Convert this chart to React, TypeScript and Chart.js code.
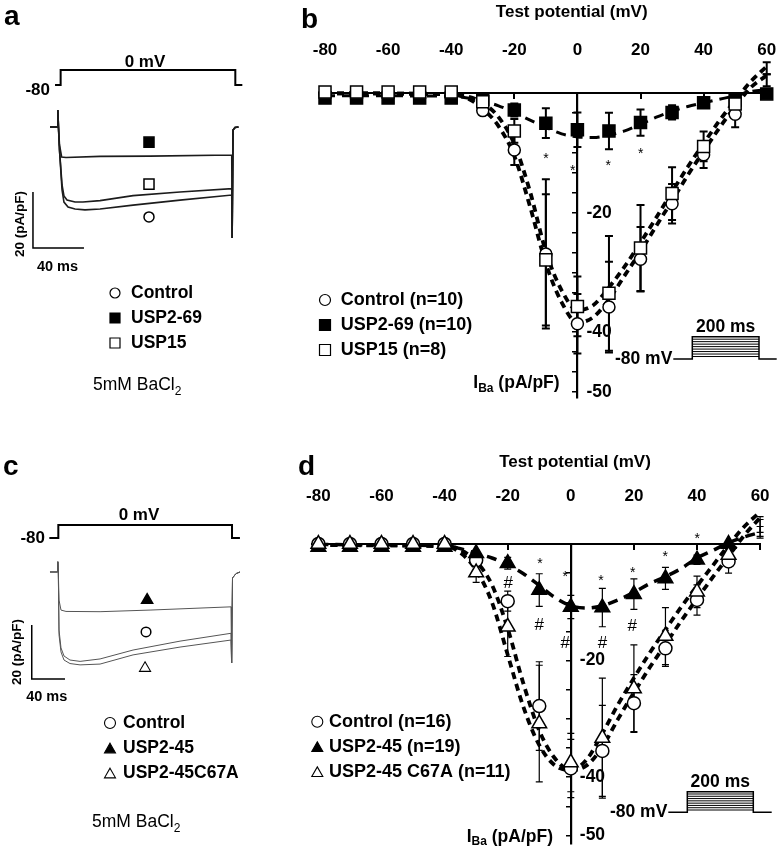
import React, { useEffect, useRef } from "react";
import { Chart, registerables } from "chart.js";

Chart.register(...registerables);

const FF = "'Liberation Sans', Arial, Helvetica, sans-serif";
Chart.defaults.font.family = FF;
Chart.defaults.color = "#000";

/* ================= Panel a : current traces (time ms, current pA/pF) ================= */
const aProtocolT = [-3.9, 0.5, 0.5, 137.5, 137.5, 143];
const aProtocolV = [-80, -80, 0, 0, -80, -80];
const aCtrlT = [-7.8, -2.0, -1.7, -1.2, -0.4, 1.6, 3.1, 6.3, 11.8, 19.6, 31.4, 57.3, 94.1, 134.7, 135.0, 135.7, 137.3, 140.0];
const aCtrlI = [0, 0, 6.1, 0, -8.2, -22.5, -26.8, -28.6, -29.3, -29.6, -29.3, -27.9, -26.1, -24.3, -39.6, -1.1, -0.2, 0];
const aUsp15T = [-7.8, -2.0, -1.7, -1.2, -0.4, 1.6, 3.1, 5.5, 11.8, 18.0, 31.4, 57.3, 94.1, 134.7, 135.0, 135.7, 137.3, 140.0];
const aUsp15I = [0, 0, 6.1, 0, -8.2, -20.7, -24.6, -26.1, -26.8, -26.8, -26.3, -24.5, -23.2, -22.0, -39.6, -1.1, -0.2, 0];
const aUsp269T = [-7.8, -2.0, -1.7, -1.2, -0.4, 1.3, 4.7, 31.4, 70.6, 134.7, 135.0, 135.7, 137.3, 140.0];
const aUsp269I = [0, 0, 6.1, 0, -6.4, -10.7, -10.9, -10.5, -10.4, -10.0, -39.6, -1.1, -0.2, 0];
const aScaleBarT = [-21.2, -21.2, 18.8];
const aScaleBarI = [-23.2, -43.2, -43.2];
const aMarkT = [69.8, 69.8, 69.8];
const aMarkI = [-32.1, -5.4, -20.4]; // Control, USP2-69, USP15

/* ================= Panel c : current traces ================= */
const cProtocolT = [-10.8, 0, 0, 208.5, 208.5, 218];
const cProtocolV = [-80, -80, 0, 0, -80, -80];
const cCtrlT = [-10, -1, -0.6, 0, 0.84, 3.2, 6.8, 14.0, 26.1, 50.1, 89.7, 146.1, 207.3, 208, 209.1, 213.3, 218.1];
const cCtrlI = [0, 0, 3.8, 0, -21.5, -28.1, -31.1, -32.6, -33.1, -32.2, -28.9, -25.6, -22.7, -33.7, -2.2, -0.6, 0];
const cC67AT = [-10, -1, -0.6, 0, 0.84, 3.2, 6.8, 14.0, 26.1, 50.1, 89.7, 146.1, 207.3, 208, 209.1, 213.3, 218.1];
const cC67AI = [0, 0, 3.8, 0, -23.3, -29.6, -32.6, -33.9, -34.4, -34.1, -30.7, -27.8, -25.2, -33.7, -2.2, -0.6, 0];
const cUsp245T = [-10, -1, -0.6, 0, 0.84, 3.2, 9.2, 50.1, 110.1, 207.3, 208, 209.1, 213.3, 218.1];
const cUsp245I = [0, 0, 3.8, 0, -10.4, -14.1, -14.6, -14.7, -14.1, -12.9, -33.7, -2.2, -0.6, 0];
const cScaleBarT = [-31.9, -31.9, 8.0];
const cScaleBarI = [-19.6, -39.6, -39.6];
const cMarkT = [105.3, 106.6, 104.1];
const cMarkI = [-22.2, -10.4, -35.6]; // Control, USP2-45, USP2-45C67A

/* ================= Panel b : I-V ================= */
const ivV = [-80, -70, -60, -50, -40, -30, -20, -10, 0, 10, 20, 30, 40, 50, 60];
const ivTicks = [-80, -60, -40, -20, 0, 20, 40, 60];
const bCtrl = [-0.2, -0.2, -0.2, -0.2, -0.2, -2.9, -9.5, -26.9, -38.6, -35.8, -27.8, -18.5, -10.3, -3.5, 2.2];
const bCtrlSem = [0.3, 0.3, 0.3, 0.3, 0.3, 0.6, 2.5, 12.5, 5, 7.6, 5.4, 3.3, 2.2, 2.2, 1.0];
const bUsp269 = [-0.8, -0.8, -0.8, -0.8, -0.8, -1.0, -2.8, -5.0, -6.1, -6.3, -4.9, -3.2, -1.6, -1.1, -0.1];
const bUsp269Sem = [0.3, 0.3, 0.3, 0.3, 0.3, 0.5, 1.1, 2.5, 2.9, 3.05, 2.2, 1.2, 0.6, 0.5, 0.3];
const bUsp15 = [0.2, 0.2, 0.2, 0.2, 0.2, -1.4, -6.3, -27.9, -35.7, -33.5, -25.9, -16.8, -8.9, -1.8, 4.2];
const bUsp15Sem = [0.3, 0.3, 0.3, 0.3, 0.3, 0.5, 2.0, 11.0, 5, 9.6, 7.2, 4.4, 2.5, 1.0, 1.0];
const bFitV = [-80, -40, -35, -30, -25, -20, -15, -10, -5, 0, 5, 10, 15, 20, 25, 30, 35, 40, 45, 50, 55, 60];
const bFitCtrl = [0, -0.2, -0.8, -2.6, -5.5, -10.5, -19, -28.5, -35, -38.4, -37.5, -34.5, -30.5, -26.5, -22.2, -18, -13.7, -9.7, -5.8, -2.2, 1, 3];
const bFitUsp15 = [0, -0.2, -0.5, -1.6, -4, -8.5, -16.5, -26.5, -33, -36.3, -35.5, -32.5, -29, -25, -20.8, -16.5, -12.3, -8.4, -4.6, -1.2, 2, 4.5];
const bFitUsp269V = [-80, -40, -30, -25, -20, -15, -10, -5, 0, 5, 10, 15, 20, 25, 30, 35, 40, 45, 50, 55, 60];
const bFitUsp269 = [-0.4, -0.5, -1.3, -2.1, -3.2, -4.5, -5.7, -6.8, -7.3, -7.4, -7.0, -6.3, -5.2, -4.0, -3.0, -2.2, -1.6, -1.0, -0.4, 0.3, 0.6];
const bYTicks = [-3.33, -6.67, -10, -13.33, -16.67, -20, -23.33, -26.67, -30, -33.33, -36.67, -40, -43.33, -46.67, -50];
const bYLabels = [-20, -40, -50];
const bStarV = [-10, -1.5, 9.8, 20.1];
const bStarI = [-10.3, -12.4, -11.5, -9.5];

/* ================= Panel d : I-V ================= */
const dCtrl = [0, 0, 0, 0, 0, -2.8, -9.8, -27.8, -38.5, -35.5, -27.3, -17.9, -9.6, -3.0, 2.6];
const dCtrlSem = [0.3, 0.3, 0.3, 0.3, 0.3, 0.8, 1.7, 7.6, 5, 7.8, 4.9, 3.1, 2.6, 2.0, 1.6];
const dUsp245 = [-0.5, -0.5, -0.5, -0.5, -0.5, -1.6, -3.3, -7.9, -10.8, -10.9, -8.6, -5.9, -2.7, 0.0, 2.5];
const dUsp245Sem = [0.2, 0.2, 0.2, 0.2, 0.2, 0.5, 1.0, 2.8, 2.0, 3.3, 2.6, 1.9, 0.8, 0.5, 0.5];
const dC67A = [0, 0, 0, 0, 0, -4.9, -14.2, -30.8, -37.5, -33.3, -24.8, -15.8, -8.2, -1.9, 3.0];
const dC67ASem = [0.3, 0.3, 0.3, 0.3, 0.3, 1.7, 5.1, 10, 5, 10.3, 7.5, 4.9, 2.7, 1.0, 1.7];
const dFitV = [-80, -40, -35, -30, -25, -20, -15, -10, -5, 0, 5, 10, 15, 20, 25, 30, 35, 40, 45, 50, 55, 60];
const dFitCtrl = [-0.2, -0.3, -1.0, -3.0, -7.0, -14.5, -24, -32, -36.8, -38.8, -38, -34.8, -30, -25.5, -21.2, -17.2, -13.2, -9.4, -5.7, -2.1, 1.5, 4.5];
const dFitC67A = [-0.2, -0.4, -1.5, -4.5, -10, -19, -28, -34.5, -38, -38.8, -37, -32.5, -27.5, -23, -18.7, -14.7, -10.8, -7.2, -3.7, -0.2, 3, 5.5];
const dFitUsp245 = [-0.1, -0.3, -0.8, -1.6, -2.4, -3.6, -5.1, -7.1, -9.2, -10.6, -11.0, -10.6, -9.6, -8.3, -6.8, -5.6, -4.2, -2.4, -1.1, 0.2, 1.2, 2.0];
const dYTicks = [-5, -10, -15, -20, -25, -30, -35, -40, -45, -50];
const dYLabels = [-20, -40, -50];
const dStarV = [-9.8, -1.8, 9.6, 19.6, 29.9, 40.1];
const dStarI = [-2.7, -5.0, -5.7, -4.2, -1.5, 1.5];
const dHashV = [-19.8, -10, -1.8, 10, 19.5];
const dHashI = [-6.7, -13.9, -17.0, -17.0, -14.2];

/* ================= helpers ================= */
const pts = (xs: number[], ys: number[]) => xs.map((x, i) => ({ x, y: ys[i] }));

function drawMarker(ctx: any, style: string, x: number, y: number, size: number, filled: boolean, lw = 1.5) {
  ctx.save();
  ctx.beginPath();
  if (style === "circle") ctx.arc(x, y, size / 2, 0, Math.PI * 2);
  else if (style === "rect") ctx.rect(x - size / 2, y - size / 2, size, size);
  else {
    const h = size * 0.88;
    ctx.moveTo(x, y - h / 2);
    ctx.lineTo(x + size / 2, y + h / 2);
    ctx.lineTo(x - size / 2, y + h / 2);
    ctx.closePath();
  }
  ctx.fillStyle = filled ? "#000" : "#fff";
  ctx.fill();
  ctx.lineWidth = lw;
  ctx.strokeStyle = "#000";
  ctx.stroke();
  ctx.restore();
}

function txt(ctx: any, s: string, x: number, y: number, font: string, align = "left", baseline = "middle") {
  ctx.save();
  ctx.font = font;
  ctx.fillStyle = "#000";
  ctx.textAlign = align;
  ctx.textBaseline = baseline;
  ctx.fillText(s, x, y);
  ctx.restore();
}

function runs(ctx: any, parts: any[], x: number, y: number, center = false) {
  ctx.save();
  ctx.fillStyle = "#000";
  ctx.textAlign = "left";
  ctx.textBaseline = "alphabetic";
  let total = 0;
  for (const p of parts) {
    ctx.font = p.font;
    total += ctx.measureText(p.t).width;
  }
  let cx = center ? x - total / 2 : x;
  for (const p of parts) {
    ctx.font = p.font;
    ctx.fillText(p.t, cx, y + (p.dy || 0));
    cx += ctx.measureText(p.t).width;
  }
  ctx.restore();
}

function rotText(ctx: any, s: string, x: number, y: number, font: string) {
  ctx.save();
  ctx.translate(x, y);
  ctx.rotate(-Math.PI / 2);
  ctx.font = font;
  ctx.fillStyle = "#000";
  ctx.textAlign = "center";
  ctx.textBaseline = "middle";
  ctx.fillText(s, 0, 0);
  ctx.restore();
}

function protocolInset(ctx: any, x0: number, xs0: number, xs1: number, x1: number, yBase: number, yTop: number) {
  ctx.save();
  ctx.strokeStyle = "#000";
  ctx.lineWidth = 1.5;
  ctx.beginPath();
  ctx.moveTo(x0, yBase);
  ctx.lineTo(xs0, yBase);
  ctx.lineTo(xs0, yTop);
  ctx.lineTo(xs1, yTop);
  ctx.lineTo(xs1, yBase);
  ctx.lineTo(x1, yBase);
  ctx.stroke();
  ctx.lineWidth = 1;
  for (let k = 1; k <= 8; k++) {
    const y = yTop + (k * (yBase - yTop)) / 9;
    ctx.beginPath();
    ctx.moveTo(xs0, y);
    ctx.lineTo(xs1, y);
    ctx.stroke();
  }
  ctx.restore();
  txt(ctx, "200 ms", (xs0 + xs1) / 2, yTop - 10, `bold 17.5px ${FF}`, "center");
  txt(ctx, "-80 mV", x0 - 1, yBase, `bold 17.5px ${FF}`, "right");
}

const errorBarPlugin = {
  id: "errbars",
  beforeDatasetsDraw(chart: any) {
    const ctx = chart.ctx;
    const xs = chart.scales.x;
    const ys = chart.scales.y;
    chart.data.datasets.forEach((ds: any) => {
      if (!ds.sem) return;
      ctx.save();
      ctx.strokeStyle = "#000";
      ctx.lineWidth = ds.errWidth;
      const cap = ds.errCap;
      ds.data.forEach((p: any, i: number) => {
        const e = ds.sem[i];
        const x = xs.getPixelForValue(p.x);
        const y1 = ys.getPixelForValue(p.y + e);
        const y2 = ys.getPixelForValue(p.y - e);
        ctx.beginPath();
        ctx.moveTo(x, y1);
        ctx.lineTo(x, y2);
        ctx.moveTo(x - cap, y1);
        ctx.lineTo(x + cap, y1);
        ctx.moveTo(x - cap, y2);
        ctx.lineTo(x + cap, y2);
        ctx.stroke();
      });
      ctx.restore();
    });
  },
};

function markerDs(xs: number[], ys: number[], style: string, radius: number, filled: boolean, order: number, extra: any = {}) {
  return {
    data: pts(xs, ys),
    showLine: false,
    pointStyle: style,
    pointRadius: radius,
    pointBackgroundColor: filled ? "#000" : "#fff",
    pointBorderColor: "#000",
    pointBorderWidth: 1.5,
    clip: false,
    order,
    ...extra,
  };
}

function fitDs(xs: number[], ys: number[], width: number, dash: number[], order: number) {
  return {
    data: pts(xs, ys),
    showLine: true,
    pointRadius: 0,
    borderColor: "#000",
    borderWidth: width,
    borderDash: dash,
    cubicInterpolationMode: "monotone",
    clip: false,
    order,
  };
}

function lineDs(xs: number[], ys: number[], color: string, width: number, axis = "y") {
  return {
    data: pts(xs, ys),
    showLine: true,
    pointRadius: 0,
    borderColor: color,
    borderWidth: width,
    clip: false,
    yAxisID: axis,
    order: 5,
  };
}

function ivConfig(p: any) {
  const tickSetter = (vals: number[]) => (s: any) => {
    s.ticks = vals.map((v) => ({ value: v }));
  };
  return {
    type: "scatter",
    data: { datasets: p.datasets },
    options: {
      animation: false,
      responsive: false,
      events: [],
      layout: { padding: p.padding, autoPadding: false },
      plugins: { legend: { display: false }, tooltip: { enabled: false } },
      scales: {
        x: {
          type: "linear",
          min: p.xMin,
          max: p.xMax,
          position: { y: 0 },
          afterBuildTicks: tickSetter(ivTicks),
          ticks: { display: false },
          grid: { drawOnChartArea: false, drawTicks: true, tickLength: 5, color: "#000", lineWidth: 2 },
          border: { display: true, color: "#000", width: 2 },
        },
        xTop: {
          type: "linear",
          axis: "x",
          min: p.xMin,
          max: p.xMax,
          position: "top",
          afterBuildTicks: tickSetter(ivTicks),
          ticks: {
            color: "#000",
            font: { family: FF, size: 17, weight: "bold" },
            padding: 0,
            maxRotation: 0,
            autoSkip: false,
            callback: (v: any) => String(v),
          },
          grid: { display: true, drawOnChartArea: false, drawTicks: true, tickLength: p.topGap, color: "rgba(0,0,0,0)" },
          border: { display: false },
        },
        y: {
          type: "linear",
          min: p.yMin,
          max: 0,
          position: { x: 0 },
          afterBuildTicks: tickSetter(p.yTicks),
          ticks: { display: false },
          grid: { drawOnChartArea: false, drawTicks: true, tickLength: 4, color: "#000", lineWidth: 1.5 },
          border: { display: true, color: "#000", width: 2.2 },
        },
      },
    },
    plugins: [errorBarPlugin, { id: "overlay", afterDatasetsDraw: p.overlay }],
  };
}

function traceConfig(p: any) {
  return {
    type: "scatter",
    data: { datasets: p.datasets },
    options: {
      animation: false,
      responsive: false,
      events: [],
      layout: { padding: p.padding, autoPadding: false },
      plugins: { legend: { display: false }, tooltip: { enabled: false } },
      scales: {
        x: { type: "linear", display: false, min: p.xMin, max: p.xMax },
        y: { type: "linear", display: false, min: p.yMin, max: p.yMax },
        yV: { type: "linear", axis: "y", display: false, min: p.vMin, max: p.vMax },
      },
    },
    plugins: [{ id: "overlay", afterDraw: p.overlay }],
  };
}

function starLayer(ctx: any, chart: any, vs: number[], is: number[], ch: string, size: number) {
  const xs = chart.scales.x;
  const ys = chart.scales.y;
  vs.forEach((v, i) => {
    const x = xs.getPixelForValue(v);
    const y = ys.getPixelForValue(is[i]);
    if (ch === "*") txt(ctx, ch, x, y + size * 0.58, `${size}px ${FF}`, "center", "alphabetic");
    else txt(ctx, ch, x, y, `${size}px ${FF}`, "center", "middle");
  });
}

function yAxisLabels(ctx: any, chart: any, vals: number[]) {
  const x0 = chart.scales.x.getPixelForValue(0);
  vals.forEach((v) => {
    txt(ctx, String(v), x0 + 9, chart.scales.y.getPixelForValue(v), `bold 17.5px ${FF}`, "left");
  });
}

/* ================= configs ================= */
function configA() {
  return traceConfig({
    padding: { left: 30, right: 20, top: 60, bottom: 160 },
    xMin: -23.53, xMax: 156.86, yMin: -47.5, yMax: 23.93, vMin: -1013.33, vMax: 53.33,
    datasets: [
      markerDs([aMarkT[0]], [aMarkI[0]], "circle", 5, false, 1),
      markerDs([aMarkT[1]], [aMarkI[1]], "rect", 7.1, true, 1),
      markerDs([aMarkT[2]], [aMarkI[2]], "rect", 7.1, false, 1),
      lineDs(aCtrlT, aCtrlI, "#1c1c1c", 1.6),
      lineDs(aUsp15T, aUsp15I, "#1c1c1c", 1.6),
      lineDs(aUsp269T, aUsp269I, "#1c1c1c", 1.6),
      lineDs(aProtocolT, aProtocolV, "#000", 2, "yV"),
      lineDs(aScaleBarT, aScaleBarI, "#000", 1.5),
    ],
    overlay: (chart: any) => {
      const ctx = chart.ctx;
      txt(ctx, "a", 4, 25, `bold 28px ${FF}`, "left", "alphabetic");
      txt(ctx, "0 mV", 145, 62, `bold 17px ${FF}`, "center");
      txt(ctx, "-80", 50, 90, `bold 17px ${FF}`, "right");
      rotText(ctx, "20 (pA/pF)", 20, 224, `bold 13.5px ${FF}`);
      txt(ctx, "40 ms", 57.5, 267, `bold 14.5px ${FF}`, "center");
      const leg: any[] = [["circle", false, "Control"], ["rect", true, "USP2-69"], ["rect", false, "USP15"]];
      leg.forEach((l, i) => {
        const y = 293 + i * 25;
        drawMarker(ctx, l[0], 115, y, 10, l[1], 1.2);
        txt(ctx, l[2], 131, y, `bold 17.5px ${FF}`, "left");
      });
      runs(ctx, [{ t: "5mM BaCl", font: `17.5px ${FF}` }, { t: "2", font: `12px ${FF}`, dy: 5 }], 93, 390);
    },
  });
}

function configC() {
  return traceConfig({
    padding: { left: 25, right: 20, top: 60, bottom: 129 },
    xMin: -40, xMax: 242.1, yMin: -54.81, yMax: 34.07, vMin: -1200, vMax: 276.9,
    datasets: [
      markerDs([cMarkT[0]], [cMarkI[0]], "circle", 4.8, false, 1),
      markerDs([cMarkT[1]], [cMarkI[1]], "triangle", 6.4, true, 1),
      markerDs([cMarkT[2]], [cMarkI[2]], "triangle", 6.4, false, 1, { pointBorderWidth: 1.1 }),
      lineDs(cCtrlT, cCtrlI, "#555", 1),
      lineDs(cC67AT, cC67AI, "#555", 1),
      lineDs(cUsp245T, cUsp245I, "#555", 1),
      lineDs(cProtocolT, cProtocolV, "#000", 2, "yV"),
      lineDs(cScaleBarT, cScaleBarI, "#000", 1.5),
    ],
    overlay: (chart: any) => {
      const ctx = chart.ctx;
      txt(ctx, "c", 3, 55, `bold 28px ${FF}`, "left", "alphabetic");
      txt(ctx, "0 mV", 139, 95, `bold 17px ${FF}`, "center");
      txt(ctx, "-80", 45, 118, `bold 17px ${FF}`, "right");
      rotText(ctx, "20 (pA/pF)", 17, 232, `bold 13.5px ${FF}`);
      txt(ctx, "40 ms", 46.7, 277, `bold 14.5px ${FF}`, "center");
      const leg: any[] = [["circle", false, "Control"], ["tri", true, "USP2-45"], ["tri", false, "USP2-45C67A"]];
      leg.forEach((l, i) => {
        const y = 303 + i * 25;
        drawMarker(ctx, l[0], 110, y, 11, l[1], 1.1);
        txt(ctx, l[2], 123, y, `bold 17.5px ${FF}`, "left");
      });
      runs(ctx, [{ t: "5mM BaCl", font: `17.5px ${FF}` }, { t: "2", font: `12px ${FF}`, dy: 5 }], 92, 407);
    },
  });
}

function configB() {
  return ivConfig({
    padding: { left: 38.7, right: 10, top: 39.8, bottom: 22.2 },
    xMin: -82, xMax: 60.09, yMin: -51, topGap: 33.1, yTicks: bYTicks,
    datasets: [
      markerDs(ivV, bUsp15, "rect", 8.5, false, 1, { sem: bUsp15Sem, errWidth: 2, errCap: 4 }),
      markerDs(ivV, bUsp269, "rect", 8.5, true, 2, { sem: bUsp269Sem, errWidth: 2, errCap: 4 }),
      markerDs(ivV, bCtrl, "circle", 6, false, 3, { sem: bCtrlSem, errWidth: 2, errCap: 4 }),
      fitDs(bFitV, bFitCtrl, 3.8, [7, 5], 6),
      fitDs(bFitV, bFitUsp15, 3.8, [7, 5], 7),
      fitDs(bFitUsp269V, bFitUsp269, 3, [10, 7], 8),
    ],
    overlay: (chart: any) => {
      const ctx = chart.ctx;
      txt(ctx, "b", 21, 28, `bold 28px ${FF}`, "left", "alphabetic");
      txt(ctx, "Test potential (mV)", 291.7, 12, `bold 17px ${FF}`, "center");
      yAxisLabels(ctx, chart, bYLabels);
      starLayer(ctx, chart, bStarV, bStarI, "*", 14);
      runs(ctx, [
        { t: "I", font: `bold 17.5px ${FF}` },
        { t: "Ba", font: `bold 12px ${FF}`, dy: 3.5 },
        { t: " (pA/pF)", font: `bold 17.5px ${FF}` },
      ], 193.3, 388.3);
      const leg: any[] = [["circle", false, "Control (n=10)"], ["rect", true, "USP2-69 (n=10)"], ["rect", false, "USP15 (n=8)"]];
      leg.forEach((l, i) => {
        const y = 300 + i * 25;
        drawMarker(ctx, l[0], 45, y, 11, l[1], 1.2);
        txt(ctx, l[2], 60.7, y, `bold 18px ${FF}`, "left");
      });
      protocolInset(ctx, 393.3, 412.3, 479, 496.7, 359, 336.7);
    },
  });
}

function configD() {
  return ivConfig({
    padding: { left: 32.1, right: 16.9, top: 66.5, bottom: 4.8 },
    xMin: -82, xMax: 60, yMin: -51.5, topGap: 37.1, yTicks: dYTicks,
    datasets: [
      markerDs(ivV, dC67A, "triangle", 8.5, false, 1, { sem: dC67ASem, errWidth: 1.2, errCap: 3.5 }),
      markerDs(ivV, dUsp245, "triangle", 8.5, true, 2, { sem: dUsp245Sem, errWidth: 1.2, errCap: 3.5 }),
      markerDs(ivV, dCtrl, "circle", 6.5, false, 3, { sem: dCtrlSem, errWidth: 1.2, errCap: 3.5 }),
      fitDs(dFitV, dFitCtrl, 3.8, [7, 5], 6),
      fitDs(dFitV, dFitC67A, 3.8, [7, 5], 7),
      fitDs(dFitV, dFitUsp245, 3.5, [10, 7], 8),
    ],
    overlay: (chart: any) => {
      const ctx = chart.ctx;
      txt(ctx, "d", 18, 55, `bold 28px ${FF}`, "left", "alphabetic");
      txt(ctx, "Test potential (mV)", 295, 42, `bold 17px ${FF}`, "center");
      yAxisLabels(ctx, chart, dYLabels);
      starLayer(ctx, chart, dStarV, dStarI, "*", 14);
      starLayer(ctx, chart, dHashV, dHashI, "#", 17);
      runs(ctx, [
        { t: "I", font: `bold 17.5px ${FF}` },
        { t: "Ba", font: `bold 12px ${FF}`, dy: 3.5 },
        { t: " (pA/pF)", font: `bold 17.5px ${FF}` },
      ], 186.7, 421.7);
      const leg: any[] = [["circle", false, "Control (n=16)"], ["tri", true, "USP2-45 (n=19)"], ["tri", false, "USP2-45 C67A (n=11)"]];
      leg.forEach((l, i) => {
        const y = 301.7 + i * 25;
        drawMarker(ctx, l[0], 37.3, y, 11, l[1], 1.1);
        txt(ctx, l[2], 49, y, `bold 18px ${FF}`, "left");
      });
      protocolInset(ctx, 388.3, 407.3, 473.3, 491.7, 392.3, 371.7);
    },
  });
}

export default function App() {
  const aRef = useRef<HTMLCanvasElement>(null);
  const bRef = useRef<HTMLCanvasElement>(null);
  const cRef = useRef<HTMLCanvasElement>(null);
  const dRef = useRef<HTMLCanvasElement>(null);

  useEffect(() => {
    const charts = [
      new Chart(aRef.current as any, configA() as any),
      new Chart(bRef.current as any, configB() as any),
      new Chart(cRef.current as any, configC() as any),
      new Chart(dRef.current as any, configD() as any),
    ];
    return () => charts.forEach((c) => c.destroy());
  }, []);

  const cs = (l: number, t: number, w: number, h: number): any => ({ position: "absolute", left: l, top: t, width: w, height: h });

  return (
    <div style={{ position: "absolute", left: 0, top: 0, width: 777, height: 849, background: "#fff", overflow: "hidden" }}>
      <canvas ref={aRef} width={280} height={420} style={cs(0, 0, 280, 420)} />
      <canvas ref={bRef} width={497} height={420} style={cs(280, 0, 497, 420)} />
      <canvas ref={cRef} width={280} height={429} style={cs(0, 420, 280, 429)} />
      <canvas ref={dRef} width={497} height={429} style={cs(280, 420, 497, 429)} />
    </div>
  );
}
